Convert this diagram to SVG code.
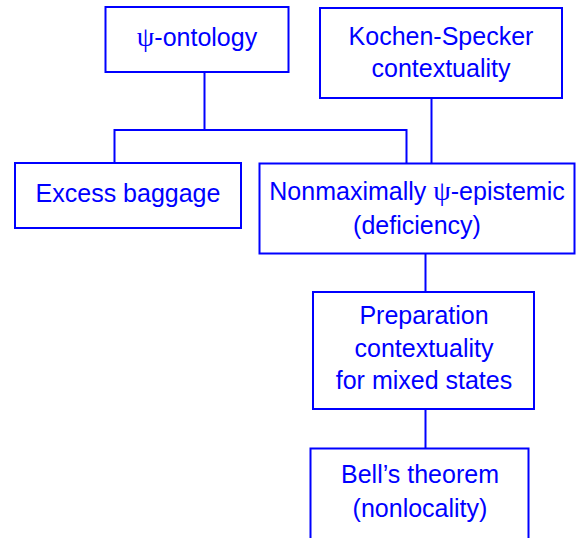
<svg xmlns="http://www.w3.org/2000/svg" width="576" height="538" viewBox="0 0 576 538">
<style>
.box{fill:#ffffff;stroke:#0000ff;stroke-width:2}
.t{font-family:"Liberation Sans",Arial,sans-serif;font-size:25px;fill:#0000ff;text-anchor:middle}
.psi{font-family:"Liberation Serif","DejaVu Serif",serif;font-size:28px}
.c{fill:none;stroke:#0000ff;stroke-width:2}
</style>
<rect width="576" height="538" fill="#ffffff"/>
<g id="connectors">
<path class="c" d="M204.5 72 V130"/>
<path class="c" d="M114.5 163 V130 H406.5 V163"/>
<path class="c" d="M431.5 98 V163"/>
<path class="c" d="M425.5 254 V292"/>
<path class="c" d="M425.5 409 V448"/>
</g>
<g id="psi-ontology">
<rect class="box" x="105.5" y="7" width="183" height="65"/>
<text class="t" x="197" y="46"><tspan class="psi">ψ</tspan>-ontology</text>
</g>
<g id="kochen-specker">
<rect class="box" x="320" y="8" width="242" height="90"/>
<text class="t" x="441" y="45">Kochen-Specker</text>
<text class="t" x="441" y="77">contextuality</text>
</g>
<g id="excess-baggage">
<rect class="box" x="15" y="163" width="226" height="65"/>
<text class="t" x="128" y="202">Excess baggage</text>
</g>
<g id="nonmaximally">
<rect class="box" x="259.5" y="163.5" width="315" height="90"/>
<text class="t" x="417" y="200">Nonmaximally  <tspan class="psi">ψ</tspan>-epistemic</text>
<text class="t" x="417" y="234">(deficiency)</text>
</g>
<g id="preparation">
<rect class="box" x="313" y="292" width="221" height="117"/>
<text class="t" x="424" y="324">Preparation</text>
<text class="t" x="424" y="357">contextuality</text>
<text class="t" x="424" y="389">for mixed states</text>
</g>
<g id="bell">
<rect class="box" x="310.5" y="448.5" width="218" height="100"/>
<text class="t" x="420" y="483">Bell’s theorem</text>
<text class="t" x="420" y="517">(nonlocality)</text>
</g>
</svg>
